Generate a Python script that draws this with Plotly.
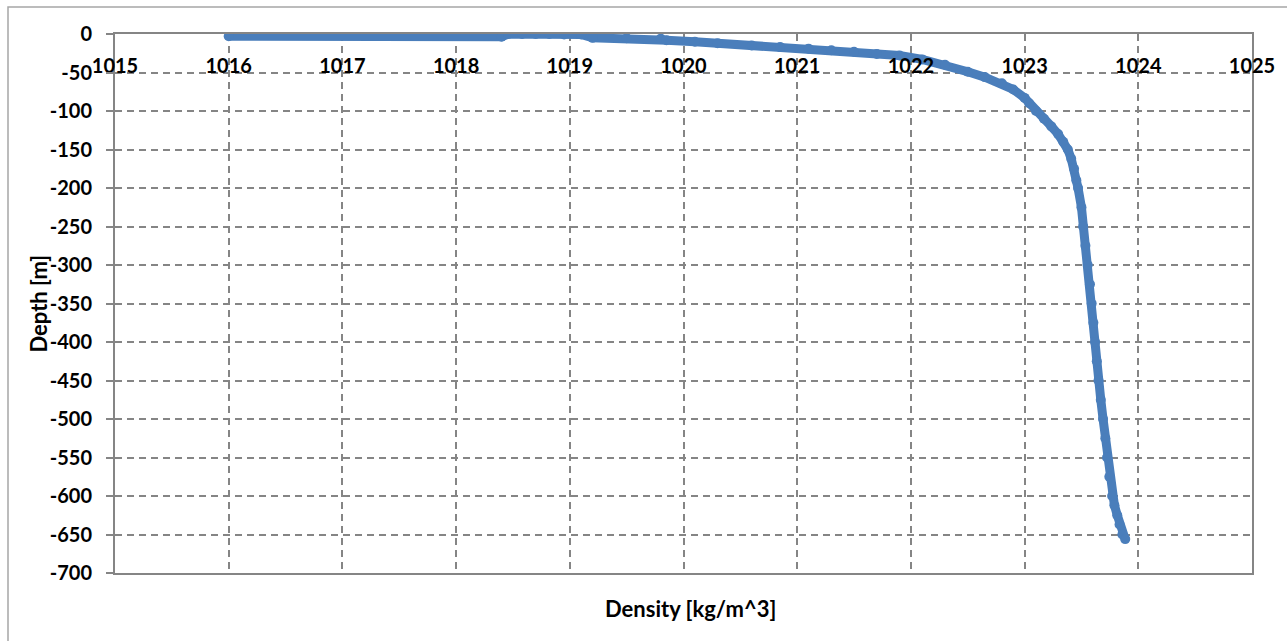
import plotly.graph_objects as go

# Density profile (kg/m^3) against depth (m), surface to bottom
density = [
    1016.00, 1018.40, 1018.46, 1018.58, 1018.70, 1018.82, 1018.95, 1019.10,
    1019.20, 1019.50, 1019.80, 1019.85, 1020.10, 1020.30, 1020.60, 1020.85,
    1021.10, 1021.30, 1021.50, 1021.70, 1021.90, 1022.10, 1022.30, 1022.50,
    1022.65, 1022.80, 1022.90, 1023.00, 1023.04, 1023.10, 1023.17, 1023.235,
    1023.295, 1023.34, 1023.38, 1023.41, 1023.435, 1023.455, 1023.47, 1023.50,
    1023.515, 1023.535, 1023.555, 1023.575, 1023.59, 1023.605, 1023.62, 1023.635,
    1023.65, 1023.67, 1023.69, 1023.71, 1023.725, 1023.745, 1023.77, 1023.79,
    1023.815, 1023.835, 1023.86, 1023.885,
]
depth = [
    -3, -3.5, 0, 0, 0, 0, -0.5, -0.5,
    -5, -5.5, -6, -8, -10, -12, -15, -17,
    -19, -21, -23, -26, -28, -33, -40, -49,
    -56, -64, -72, -83, -90, -100, -110, -120,
    -130, -140, -150, -162, -175, -190, -200, -225,
    -250, -275, -300, -325, -350, -375, -400, -425,
    -450, -475, -500, -525, -550, -575, -600, -612,
    -625, -637, -650, -656,
]

x_ticks = [1015, 1016, 1017, 1018, 1019, 1020, 1021, 1022, 1023, 1024, 1025]
y_ticks = list(range(0, -701, -50))

W, H = 1287, 641
ML, MR, MT, MB = 115, 35, 34, 68

BLUE = "#4A7EBB"
GRID = "#858585"
FONT = dict(family="Lato, 'Open Sans', sans-serif", size=20, color="#000000", weight="bold")

fig = go.Figure()
fig.add_trace(go.Scatter(
    x=density, y=depth, mode="lines+markers",
    line=dict(color=BLUE, width=9),
    marker=dict(color=BLUE, size=10),
    showlegend=False, hoverinfo="x+y",
))

fig.update_xaxes(
    range=[1015, 1025], tickvals=x_ticks, ticktext=[str(v) for v in x_ticks],
    side="top", ticklabelposition="inside", ticklabeloverflow="allow",
    ticks="", ticklabelstandoff=26,
    showgrid=True, gridcolor=GRID, gridwidth=1.5, griddash="7px,5px",
    showline=True, linecolor=GRID, linewidth=2, mirror=True,
    zeroline=False, tickfont=FONT,
)
fig.update_yaxes(
    range=[-700, 0], tickvals=y_ticks, ticktext=[str(v) for v in y_ticks],
    ticks="outside", ticklen=7, tickcolor=GRID, tickwidth=1.5,
    ticklabelstandoff=10,
    showgrid=True, gridcolor=GRID, gridwidth=1.5, griddash="7px,5px",
    showline=True, linecolor=GRID, linewidth=2, mirror=True,
    zeroline=False, tickfont=FONT,
)

pw = W - ML - MR
ph = H - MT - MB

def px_x(p):
    return (p - ML) / pw

def px_y(p):
    return (H - MB - p) / ph

# Chart frame around the whole figure
fig.add_shape(type="rect", xref="paper", yref="paper",
              x0=px_x(8), x1=px_x(W + 20), y0=px_y(H + 20), y1=px_y(7),
              line=dict(color="#A6A6A6", width=1.5), fillcolor="rgba(0,0,0,0)",
              layer="below")

fig.add_annotation(text="Depth [m]", xref="paper", yref="paper",
                   x=px_x(38), y=0.5, textangle=-90, showarrow=False,
                   font=dict(FONT, size=22), xanchor="center", yanchor="middle")
fig.add_annotation(text="Density [kg/m^3]", xref="paper", yref="paper",
                   x=px_x(690), y=px_y(608), showarrow=False,
                   font=dict(FONT, size=22), xanchor="center", yanchor="middle")

fig.update_layout(
    width=W, height=H,
    margin=dict(l=ML, r=MR, t=MT, b=MB),
    paper_bgcolor="white", plot_bgcolor="white",
)

fig.write_html("out.html")
